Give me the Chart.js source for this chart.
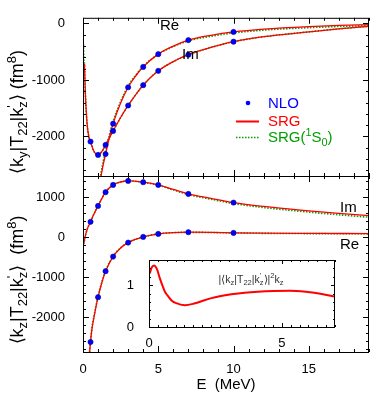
<!DOCTYPE html>
<html>
<head>
<meta charset="utf-8">
<script src="https://cdn.jsdelivr.net/npm/chart.js@4.4.0/dist/chart.umd.min.js"></script>
<style>
  body { margin: 0; background: #fff; }
  #wrap { position: relative; width: 382px; height: 401px; }
  #wrap canvas { position: absolute; left: 0; top: 0; }
</style>
</head>
<body>
<div id="wrap">
  <canvas id="top" width="382" height="401"></canvas>
  <canvas id="bottom" width="382" height="401"></canvas>
  <canvas id="inset" width="382" height="401"></canvas>
</div>
<script>
// NLO points, same energies in both panels
const nloE = [0.5, 1, 1.5, 2, 3, 4, 5, 7, 10];
const nloTopRe = [null, null, -2311, -1774, -1129, -769, -543, -295, -150];
const nloTopIm = [-2090, -2327, -2150, -1903, -1452, -1092, -839, -553, -323];
const nloBotRe = [-2620, -1500, -850, -485, -135, 8, 83, 125, 108];
const nloBotIm = [385, 783, 1125, 1308, 1408, 1375, 1308, 1083, 865];

// SRG curves, top panel <ky|T22|kz'>
const topReE = [1.1, 1.2, 1.35, 1.5, 1.75, 2, 2.5, 3, 3.5, 4, 5, 6, 7, 8.5, 10, 12, 15, 17, 19];
const topRe = [-2850, -2700, -2490, -2311, -2020, -1774, -1410, -1129, -930, -769, -543, -400, -295, -210, -150, -100, -55, -35, -20];
const topRe1S0 = [-2800, -2640, -2430, -2260, -1975, -1735, -1380, -1105, -915, -760, -545, -410, -308, -226, -168, -118, -74, -54, -38];
const topImE = [0.1, 0.15, 0.26, 0.39, 0.5, 0.7, 1.0, 1.25, 1.5, 2, 2.5, 3, 4, 5, 6, 7, 8.5, 10, 12, 15, 17, 19];
const topIm = [-717, -1200, -1740, -2010, -2090, -2250, -2325, -2270, -2150, -1903, -1665, -1452, -1092, -839, -675, -553, -425, -323, -235, -150, -95, -50];
const topIm1S0E = [0.03, 0.06, 0.1, 0.15, 0.26, 0.39, 0.5, 0.7, 1.0, 1.25, 1.5, 2, 2.5, 3, 4, 5, 6, 7, 8.5, 10, 12, 15, 17, 19];
const topIm1S0 = [-370, -630, -717, -1200, -1740, -2010, -2090, -2250, -2325, -2270, -2150, -1903, -1665, -1452, -1092, -839, -675, -553, -425, -323, -235, -150, -95, -50];

// SRG curves, bottom panel <kz|T22|kz'>
const botReE = [0.35, 0.4, 0.45, 0.5, 0.6, 0.75, 1, 1.25, 1.5, 2, 2.5, 3, 4, 5, 6, 7, 8.5, 10, 12, 15, 19];
const botRe = [-3600, -3150, -2830, -2620, -2280, -1960, -1500, -1140, -850, -485, -270, -135, 8, 83, 115, 125, 120, 110, 100, 95, 90];
const botRe1S0 = [-3550, -3100, -2790, -2585, -2250, -1935, -1480, -1125, -838, -478, -265, -132, 8, 82, 113, 122, 117, 106, 96, 90, 84];
const botImE = [0.04, 0.1, 0.2, 0.3, 0.5, 0.75, 1, 1.5, 2, 2.5, 3, 4, 5, 6, 7, 8.5, 10, 12, 15, 17, 19];
const botIm = [-175, -70, 100, 220, 385, 600, 783, 1125, 1308, 1380, 1408, 1375, 1308, 1195, 1083, 970, 865, 770, 660, 595, 540];
const botIm1S0 = [-175, -70, 100, 220, 385, 600, 783, 1125, 1308, 1380, 1408, 1372, 1300, 1182, 1066, 950, 842, 742, 628, 560, 500];

// inset |<kz|T22|kz'>|^2 kz
const insetE = [0.03, 0.1, 0.19, 0.3, 0.4, 0.5, 0.6, 0.75, 0.85, 1.0, 1.35, 1.7, 2.35, 3.1, 3.6, 4.7, 5.3, 5.9, 6.5, 7];
const insetV = [1.28, 1.42, 1.47, 1.38, 1.18, 1.0, 0.84, 0.71, 0.635, 0.575, 0.52, 0.56, 0.69, 0.78, 0.82, 0.86, 0.865, 0.84, 0.79, 0.72];

// tick labels
const xTicks = [0, 5, 10, 15];
const topYTicks = [-2000, -1000, 0];
const botYTicks = [-2000, -1000, 0, 1000];
const insetXTicks = [0, 5];
const insetYTicks = [0, 1];

const FONT = '"Liberation Sans", Arial, Helvetica, sans-serif';
Chart.defaults.font.family = FONT;
Chart.defaults.font.size = 13;
Chart.defaults.color = '#000';

const RED = '#ff0000';
const GREEN = '#00a000';
const BLUE = '#0000ff';

function pts(xs, ys) {
  return xs.map((x, i) => ({x: x, y: ys[i]}));
}

function range(a, b, step) {
  const out = [];
  for (let v = a; v <= b + 1e-9; v += step) out.push(+v.toFixed(6));
  return out;
}

// text with sub/superscripts: parts = [text, -1 sub / 0 / 1 sup, noAdvance]
function richText(ctx, parts, x, y, size, color, align, angle) {
  ctx.save();
  ctx.translate(x, y);
  if (angle) ctx.rotate(angle);
  ctx.fillStyle = color;
  ctx.textAlign = 'left';
  ctx.textBaseline = 'alphabetic';
  let w = 0;
  const widths = parts.map(p => {
    ctx.font = (p[1] ? size * 0.72 : size) + 'px ' + FONT;
    const pw = p[2] ? 0 : ctx.measureText(p[0]).width;
    w += pw;
    return pw;
  });
  let cx = align === 'center' ? -w / 2 : 0;
  parts.forEach((p, i) => {
    ctx.font = (p[1] ? size * 0.72 : size) + 'px ' + FONT;
    const dy = p[1] < 0 ? size * 0.22 : p[1] > 0 ? -size * 0.42 : 0;
    ctx.fillText(p[0], cx, dy + size * 0.36);
    cx += widths[i];
  });
  ctx.restore();
}

// border with gnuplot style inward ticks on all four sides
const framePlugin = {
  id: 'frame',
  beforeDatasetsDraw(chart, args, o) {
    if (!o.fill) return;
    const a = chart.chartArea;
    chart.ctx.save();
    chart.ctx.fillStyle = '#fff';
    chart.ctx.fillRect(a.left, a.top, a.right - a.left, a.bottom - a.top);
    chart.ctx.restore();
  },
  afterDraw(chart, args, o) {
    if (!o.xTicks) return;
    const {ctx, chartArea: a} = chart;
    const sx = chart.scales.x, sy = chart.scales.y;
    ctx.save();
    ctx.strokeStyle = '#000';
    ctx.lineWidth = 1;
    ctx.beginPath();
    o.xTicks.forEach(v => {
      const len = o.xMajor.includes(v) ? o.major : o.minor;
      const px = Math.round(sx.getPixelForValue(v)) + 0.5;
      ctx.moveTo(px, a.bottom); ctx.lineTo(px, a.bottom - len);
      ctx.moveTo(px, a.top); ctx.lineTo(px, a.top + len);
    });
    o.yTicks.forEach(v => {
      const len = o.yMajor.includes(v) ? o.major : o.minor;
      const py = Math.round(sy.getPixelForValue(v)) + 0.5;
      ctx.moveTo(a.left, py); ctx.lineTo(a.left + len, py);
      ctx.moveTo(a.right, py); ctx.lineTo(a.right - len, py);
    });
    ctx.stroke();
    ctx.strokeRect(a.left + 0.5, a.top + 0.5, a.right - a.left - 1, a.bottom - a.top);
    ctx.restore();
  }
};
Chart.register(framePlugin);

function nloSet(ys) {
  return {
    data: pts(nloE, ys), showLine: false, order: 0,
    pointRadius: 2.6, pointBackgroundColor: BLUE, pointBorderColor: '#0000a0', pointBorderWidth: 0.6
  };
}
// red drawn over the dotted green
function lineSet(xs, ys, color, dotted, width) {
  return {
    data: pts(xs, ys), order: dotted ? 2 : 1,
    borderColor: color, borderWidth: width || (dotted ? 1.6 : 1.3), borderDash: dotted ? [1.5, 1.5] : [],
    pointRadius: 0, cubicInterpolationMode: 'monotone', fill: false
  };
}

function yAxis(min, max, ticks, width, pad) {
  return {
    type: 'linear', position: 'left', min: min, max: max,
    afterFit: s => { s.width = width; },
    afterBuildTicks: s => { s.ticks = ticks.map(v => ({value: v})); },
    ticks: {padding: pad, callback: v => String(v), font: {size: 13}},
    grid: {display: false}, border: {display: false}
  };
}

const baseOpts = {
  responsive: false, animation: false, events: [],
  plugins: {legend: {display: false}, tooltip: {enabled: false}}
};

// top panel
new Chart(document.getElementById('top'), {
  type: 'line',
  data: {datasets: [
    nloSet(nloTopRe), nloSet(nloTopIm),
    lineSet(topReE, topRe, RED), lineSet(topImE, topIm, RED),
    lineSet(topReE, topRe1S0, GREEN, true), lineSet(topIm1S0E, topIm1S0, GREEN, true)
  ]},
  options: {
    ...baseOpts,
    layout: {padding: {left: 0, top: 3, right: 13, bottom: 225}},
    scales: {
      x: {type: 'linear', min: 0, max: 19, display: false},
      y: yAxis(-2700, 100, topYTicks, 83, 10)
    },
    plugins: {
      ...baseOpts.plugins,
      frame: {xTicks: range(0, 19, 1), xMajor: xTicks, yTicks: range(-2600, 0, 200), yMajor: topYTicks, major: 6, minor: 3}
    }
  },
  plugins: [{
    id: 'topNotes',
    afterDraw(chart) {
      const ctx = chart.ctx;
      richText(ctx, [['⟨k', 0], ['y', -1], ['|T', 0], ['22', -1], ['|k', 0], ['\'', 1, true], ['z', -1], ['⟩ (fm', 0], ['8', 1], [')', 0]],
        17, 112, 18, '#000', 'center', -Math.PI / 2);
      richText(ctx, [['Re', 0]], 160, 25, 15, '#000', 'left');
      richText(ctx, [['Im', 0]], 182, 54, 15, '#000', 'left');
      // legend
      ctx.save();
      ctx.fillStyle = BLUE;
      ctx.beginPath(); ctx.arc(248, 103, 2.3, 0, Math.PI * 2); ctx.fill();
      ctx.strokeStyle = RED; ctx.lineWidth = 2;
      ctx.beginPath(); ctx.moveTo(236, 121.5); ctx.lineTo(259, 121.5); ctx.stroke();
      ctx.strokeStyle = GREEN; ctx.lineWidth = 1.5; ctx.setLineDash([1.5, 1.5]);
      ctx.beginPath(); ctx.moveTo(236, 137.5); ctx.lineTo(259, 137.5); ctx.stroke();
      ctx.restore();
      richText(ctx, [['NLO', 0]], 268, 103, 15, BLUE, 'left');
      richText(ctx, [['SRG', 0]], 268, 121, 15, RED, 'left');
      richText(ctx, [['SRG(', 0], ['1', 1], ['S', 0], ['0', -1], [')', 0]], 268, 137, 15, GREEN, 'left');
    }
  }]
});

// bottom panel
new Chart(document.getElementById('bottom'), {
  type: 'line',
  data: {datasets: [
    nloSet(nloBotRe), nloSet(nloBotIm),
    lineSet(botReE, botRe, RED), lineSet(botImE, botIm, RED),
    lineSet(botReE, botRe1S0, GREEN, true), lineSet(botImE, botIm1S0, GREEN, true)
  ]},
  options: {
    ...baseOpts,
    layout: {padding: {left: 0, top: 176, right: 13, bottom: 0}},
    scales: {
      x: {
        type: 'linear', min: 0, max: 19,
        afterFit: s => { s.height = 49; },
        afterBuildTicks: s => { s.ticks = xTicks.map(v => ({value: v})); },
        ticks: {padding: 2, maxRotation: 0, font: {size: 13}},
        grid: {display: false}, border: {display: false},
        title: {display: true, text: 'E  (MeV)', font: {size: 15}, padding: {top: 0, bottom: 7}}
      },
      y: yAxis(-2870, 1530, botYTicks, 83, 10)
    },
    plugins: {
      ...baseOpts.plugins,
      frame: {xTicks: range(0, 19, 1), xMajor: xTicks, yTicks: range(-2800, 1400, 200), yMajor: botYTicks, major: 6, minor: 3}
    }
  },
  plugins: [{
    id: 'botNotes',
    afterDraw(chart) {
      const ctx = chart.ctx;
      richText(ctx, [['⟨k', 0], ['z', -1], ['|T', 0], ['22', -1], ['|k', 0], ['\'', 1, true], ['z', -1], ['⟩  (fm', 0], ['8', 1], [')', 0]],
        17, 280, 18, '#000', 'center', -Math.PI / 2);
      richText(ctx, [['Im', 0]], 340, 207, 15, '#000', 'left');
      richText(ctx, [['Re', 0]], 340, 244, 15, '#000', 'left');
    }
  }]
});

// inset
new Chart(document.getElementById('inset'), {
  type: 'line',
  data: {datasets: [lineSet(insetE, insetV, RED, false, 2)]},
  options: {
    ...baseOpts,
    layout: {padding: {left: 0, top: 260, right: 47, bottom: 0}},
    scales: {
      x: {
        type: 'linear', min: 0, max: 7,
        afterFit: s => { s.height = 74; },
        afterBuildTicks: s => { s.ticks = insetXTicks.map(v => ({value: v})); },
        ticks: {padding: 1, maxRotation: 0, font: {size: 13}},
        grid: {display: false}, border: {display: false}
      },
      y: yAxis(0, 1.6, insetYTicks, 149, 7)
    },
    plugins: {
      ...baseOpts.plugins,
      frame: {fill: true, xTicks: range(0, 7, 1 / 3), xMajor: insetXTicks, yTicks: range(0, 1.6, 0.2), yMajor: insetYTicks, major: 4, minor: 2}
    }
  },
  plugins: [{
    id: 'insetNotes',
    afterDraw(chart) {
      richText(chart.ctx, [['|⟨k', 0], ['z', -1], ['|T', 0], ['22', -1], ['|k', 0], ['\'', 1, true], ['z', -1], ['⟩|', 0], ['2', 1], ['k', 0], ['z', -1]],
        251, 279, 10.5, '#333', 'center');
    }
  }]
});
</script>
</body>
</html>
